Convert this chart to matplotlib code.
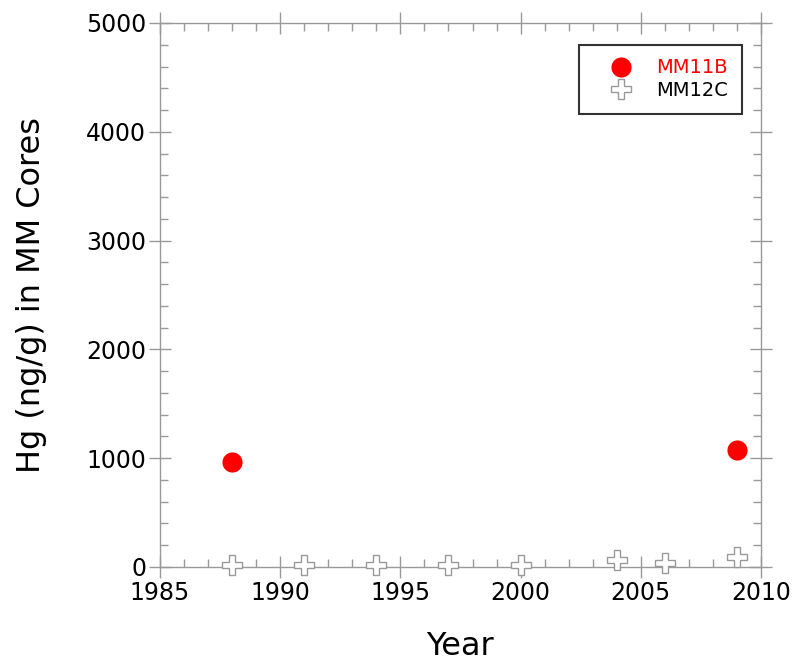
import matplotlib
matplotlib.use("Agg")
import matplotlib.pyplot as plt
from matplotlib.ticker import MultipleLocator

# Hg concentrations by core section year
mm11b_year = [1988, 2009]
mm11b_hg = [966, 1076]

mm12c_year = [1988, 1991, 1994, 1997, 2000, 2004, 2006, 2009]
mm12c_hg = [15, 15, 15, 15, 18, 60, 37, 90]

plt.rcParams['font.family'] = ['DejaVu Sans']

fig = plt.figure(figsize=(7.98, 6.62), dpi=100)
ax = fig.add_axes([160/798, 1 - 567/662, 601/798, 544/662])

ax.plot(mm11b_year, mm11b_hg, 'o', color='#ff0000', markersize=14.5,
        markeredgewidth=0, label='MM11B', zorder=3, clip_on=False)
ax.plot(mm12c_year, mm12c_hg, 'P', markerfacecolor='white',
        markeredgecolor='#999999', markeredgewidth=1.0, markersize=15,
        label='MM12C', zorder=3, clip_on=False)

ax.set_xlim(1985, 2010)
ax.set_ylim(0, 5000)
ax.xaxis.set_major_locator(MultipleLocator(5))
ax.xaxis.set_minor_locator(MultipleLocator(1))
ax.yaxis.set_major_locator(MultipleLocator(1000))
ax.yaxis.set_minor_locator(MultipleLocator(200))

for s in ax.spines.values():
    s.set_color('#999999')
    s.set_linewidth(1.0)
ax.tick_params(which='major', direction='inout', length=16, width=1,
               color='#999999', top=True, right=True, labelsize=17, pad=2)
ax.tick_params(which='minor', direction='in', length=6, width=1,
               color='#999999', top=True, right=True)

ax.set_xlabel('Year', fontsize=23, labelpad=19)
ax.set_ylabel('Hg (ng/g) in MM Cores', fontsize=23, labelpad=28)

leg = ax.legend(loc='upper right', bbox_to_anchor=(0.968, 0.96),
                borderaxespad=0, fontsize=14, frameon=True, fancybox=False,
                handletextpad=0.3, borderpad=0.7, labelspacing=0.2,
                handlelength=3.0, markerfirst=True)
leg.get_frame().set_edgecolor('black')
leg.get_frame().set_linewidth(1.5)
leg.get_texts()[0].set_color('#ff0000')

fig.savefig('out.png', dpi=100)
